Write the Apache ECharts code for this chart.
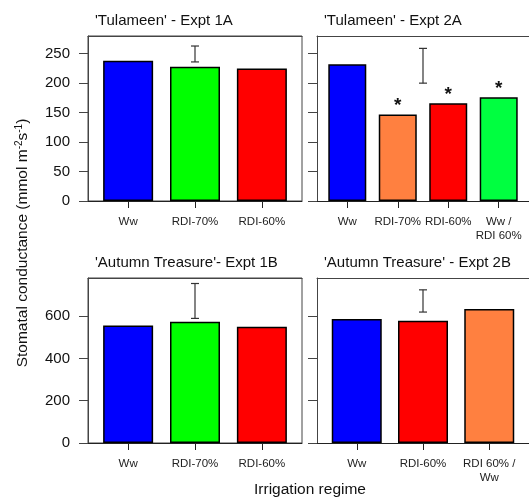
<!DOCTYPE html>
<html>
<head>
<meta charset="utf-8">
<script src="https://cdn.jsdelivr.net/npm/echarts@6/dist/echarts.min.js"></script>
<style>
  html, body { margin: 0; padding: 0; background: #fff; }
  #chart { width: 529px; height: 501px; }
</style>
</head>
<body>
<div id="chart"></div>
<script>
// Stomatal conductance by irrigation regime, four experiments
const panelTitles = ["'Tulameen' - Expt 1A", "'Tulameen' - Expt 2A", "'Autumn Treasure'- Expt 1B", "'Autumn Treasure' - Expt 2B"];

const cats1A = ['Ww', 'RDI-70%', 'RDI-60%'];
const vals1A = [238, 228, 225];
const err1A = [2, 236, 263];          // [position, low, high]
const sig1A = [false, false, false];

const cats2A = ['Ww', 'RDI-70%', 'RDI-60%', 'Ww /\nRDI 60%'];
const vals2A = [232, 147, 166, 176];
const err2A = [2.5, 200, 259];
const sig2A = [false, true, true, true];

const cats1B = ['Ww', 'RDI-70%', 'RDI-60%'];
const vals1B = [556, 573, 550];
const err1B = [2, 589, 754];
const sig1B = [false, false, false];

const cats2B = ['Ww', 'RDI-60%', 'RDI 60% /\nWw'];
const vals2B = [586, 578, 634];
const err2B = [2, 619, 724];
const sig2B = [false, false, false];

const yTicksTop = [0, 50, 100, 150, 200, 250];
const yTicksBottom = [0, 200, 400, 600];

// fill colour per bar
const panelColors = [
  ['#0000ff', '#00ff00', '#ff0000'],
  ['#0000ff', '#ff8040', '#ff0000', '#00ff40'],
  ['#0000ff', '#00ff00', '#ff0000'],
  ['#0000ff', '#ff0000', '#ff8040']
];

const FONT = 'Liberation Sans, Arial, sans-serif';
const AXIS = '#444';
const panels = [
  { cats: cats1A, vals: vals1A, err: err1A, sig: sig1A, yMax: 280, ticks: yTicksTop, showY: true, barW: 50, frame: true },
  { cats: cats2A, vals: vals2A, err: err2A, sig: sig2A, yMax: 280, ticks: yTicksTop, showY: false, barW: 38, frame: false },
  { cats: cats1B, vals: vals1B, err: err1B, sig: sig1B, yMax: 780, ticks: yTicksBottom, showY: true, barW: 50, frame: true },
  { cats: cats2B, vals: vals2B, err: err2B, sig: sig2B, yMax: 780, ticks: yTicksBottom, showY: false, barW: 50, frame: false }
];
const gridPos = [
  { left: 88, top: 36 }, { left: 317, top: 36 },
  { left: 88, top: 278 }, { left: 317, top: 278 }
];

const grid = [], xAxis = [], yAxis = [], series = [], titles = [];

panels.forEach((p, i) => {
  grid.push({
    left: gridPos[i].left, top: gridPos[i].top, width: 214, height: 165,
    show: p.frame, borderColor: AXIS, borderWidth: 1, backgroundColor: 'transparent'
  });
  const n = p.cats.length;
  const positions = p.cats.map((c, k) => k + 1);
  // bottom category axis
  xAxis.push({
    gridIndex: i, type: 'value', min: 0.4, max: n + 0.6, position: 'bottom',
    axisLine: { show: true, onZero: false, lineStyle: { color: '#222', width: 1 } },
    axisTick: { show: true, length: 7, customValues: positions, lineStyle: { color: '#222' } },
    axisLabel: {
      show: true, customValues: positions, margin: 14,
      fontFamily: FONT, fontSize: 11.5, color: '#222', lineHeight: 14,
      formatter: v => p.cats[Math.round(v) - 1] || ''
    },
    splitLine: { show: false }
  });
  // top edge of the plot frame
  xAxis.push({
    gridIndex: i, type: 'value', min: 0.4, max: n + 0.6, position: 'top',
    axisLine: { show: true, onZero: false, lineStyle: { color: AXIS, width: 1 } },
    axisTick: { show: false }, axisLabel: { show: false }, splitLine: { show: false }
  });
  yAxis.push({
    gridIndex: i, type: 'value', min: 0, max: p.yMax,
    axisLine: { show: true, lineStyle: { color: AXIS, width: 1 } },
    axisTick: { show: true, length: 9, inside: false, customValues: p.ticks, lineStyle: { color: AXIS } },
    axisLabel: {
      show: p.showY, customValues: p.ticks, margin: 18,
      fontFamily: FONT, fontSize: 15, color: '#111'
    },
    splitLine: { show: false }
  });
  const xi = i * 2;
  series.push({
    type: 'bar', xAxisIndex: xi, yAxisIndex: i, barWidth: p.barW,
    data: p.vals.map((v, k) => ({
      value: [k + 1, v],
      itemStyle: { color: panelColors[i][k], borderColor: '#000', borderWidth: 1.5 }
    })),
    label: {
      show: true, position: 'top', distance: -1,
      fontFamily: FONT, fontSize: 19, fontWeight: 'bold', color: '#111',
      formatter: prm => p.sig[prm.dataIndex] ? '*' : ''
    },
    silent: true, animation: false
  });
  series.push({
    type: 'custom', xAxisIndex: xi, yAxisIndex: i,
    data: [p.err],
    renderItem: (params, api) => {
      const lo = api.coord([api.value(0), api.value(1)]);
      const hi = api.coord([api.value(0), api.value(2)]);
      const cap = 4;
      const style = { stroke: '#333', lineWidth: 1.2 };
      return {
        type: 'group',
        children: [
          { type: 'line', shape: { x1: lo[0], y1: lo[1], x2: hi[0], y2: hi[1] }, style },
          { type: 'line', shape: { x1: lo[0] - cap, y1: lo[1], x2: lo[0] + cap, y2: lo[1] }, style },
          { type: 'line', shape: { x1: hi[0] - cap, y1: hi[1], x2: hi[0] + cap, y2: hi[1] }, style }
        ]
      };
    },
    silent: true, animation: false
  });
  titles.push({
    text: panelTitles[i],
    left: gridPos[i].left + 2, top: gridPos[i].top - 28,
    textStyle: { fontFamily: FONT, fontSize: 15, fontWeight: 'normal', color: '#111' }
  });
});

const chart = echarts.init(document.getElementById('chart'), null, { renderer: 'canvas' });
chart.setOption({
  backgroundColor: '#fff',
  animation: false,
  title: titles,
  grid, xAxis, yAxis, series,
  graphic: [
    {
      type: 'text', x: 23, y: 243, rotation: Math.PI / 2,
      style: {
        text: 'Stomatal conductance (mmol m{sup|-2}s{sup|-1})',
        align: 'center', verticalAlign: 'middle',
        fontFamily: FONT, fontSize: 15.5, fill: '#111',
        rich: { sup: { fontFamily: FONT, fontSize: 10, verticalAlign: 'top', padding: [0, 0, 7, 0], fill: '#111' } }
      }
    },
    {
      type: 'text', x: 310, y: 490,
      style: {
        text: 'Irrigation regime', align: 'center', verticalAlign: 'middle',
        fontFamily: FONT, fontSize: 15.5, fill: '#111'
      }
    }
  ]
});
</script>
</body>
</html>
